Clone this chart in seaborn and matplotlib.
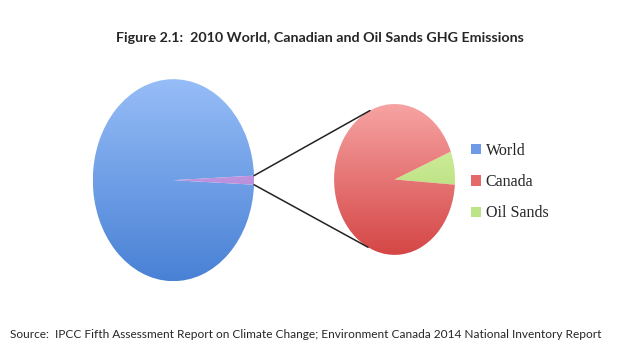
import numpy as np
import seaborn as sns
import matplotlib.pyplot as plt
from matplotlib.colors import LinearSegmentedColormap
from matplotlib.patches import ConnectionPatch, Patch

# 2010 GHG emissions, Mt CO2e
world_total = 49000
canada_total = 701
oil_sands = 50

labels = ['World', 'Canada', 'Oil Sands']
world_vals = [world_total - canada_total, canada_total]
canada_vals = [oil_sands, canada_total - oil_sands]

sns.set_theme(style='white')
plt.rcParams['font.family'] = ['Lato', 'DejaVu Sans']

legend_colors = ['#6f9ae6', '#e46a6a', '#bde487']
grads = {
    'World': ('#96bdf7', '#4981d5'),
    'Canada': ('#f7a3a3', '#d54646'),
    'Oil Sands': ('#e0f5ad', '#a3d466'),
    'slice': ('#d2a8ec', '#a77ccf'),
}

fig = plt.figure(figsize=(6.4, 3.6), dpi=100)
ax1 = fig.add_axes([0.145, 0.219, 0.252, 0.561])
ax2 = fig.add_axes([0.522, 0.292, 0.189, 0.419])


def gradient_pie(ax, vals, keys, start):
    wedges, _ = ax.pie(vals, startangle=start, counterclock=True,
                       colors=['none'] * len(vals), radius=1)
    ax.set_aspect('auto')
    grad = np.linspace(0, 1, 256).reshape(-1, 1)
    for w, k in zip(wedges, keys):
        cmap = LinearSegmentedColormap.from_list(k, grads[k])
        im = ax.imshow(grad, cmap=cmap, extent=[-1, 1, -1, 1],
                       aspect='auto', origin='upper', zorder=1)
        im.set_clip_path(w)
    ax.set_xlim(-1, 1)
    ax.set_ylim(-1, 1)
    ax.axis('off')
    return wedges


canada_deg = 360 * world_vals[1] / sum(world_vals)
w1 = gradient_pie(ax1, world_vals, ['World', 'slice'], canada_deg / 2)
w2 = gradient_pie(ax2, canada_vals, ['Oil Sands', 'Canada'], -4)

# connector lines from the Canada slice to the Canada pie
sl = w1[1]
for th, ang in [(sl.theta2, 114), (sl.theta1, -116)]:
    p1 = (np.cos(np.radians(th)), np.sin(np.radians(th)))
    p2 = (np.cos(np.radians(ang)), np.sin(np.radians(ang)))
    con = ConnectionPatch(xyA=p1, coordsA=ax1.transData, xyB=p2,
                          coordsB=ax2.transData, color='#222222', lw=1.1)
    fig.add_artist(con)

handles = [Patch(facecolor=c, edgecolor='none') for c in legend_colors]
fig.legend(handles, labels, loc='center left', bbox_to_anchor=(0.714, 0.494),
           frameon=False, handlelength=0.6, handleheight=0.6, handletextpad=0.3,
           labelspacing=0.95, prop={'family': 'Liberation Serif', 'size': 11.5})

fig.text(0.5, 0.895, 'Figure 2.1:  2010 World, Canadian and Oil Sands GHG Emissions',
         ha='center', va='center', fontsize=10.3, fontweight='bold')
fig.text(0.016, 0.07, 'Source:  IPCC Fifth Assessment Report on Climate Change; '
         'Environment Canada 2014 National Inventory Report',
         ha='left', va='center', fontsize=8.55)

fig.savefig('out.png', dpi=100)
